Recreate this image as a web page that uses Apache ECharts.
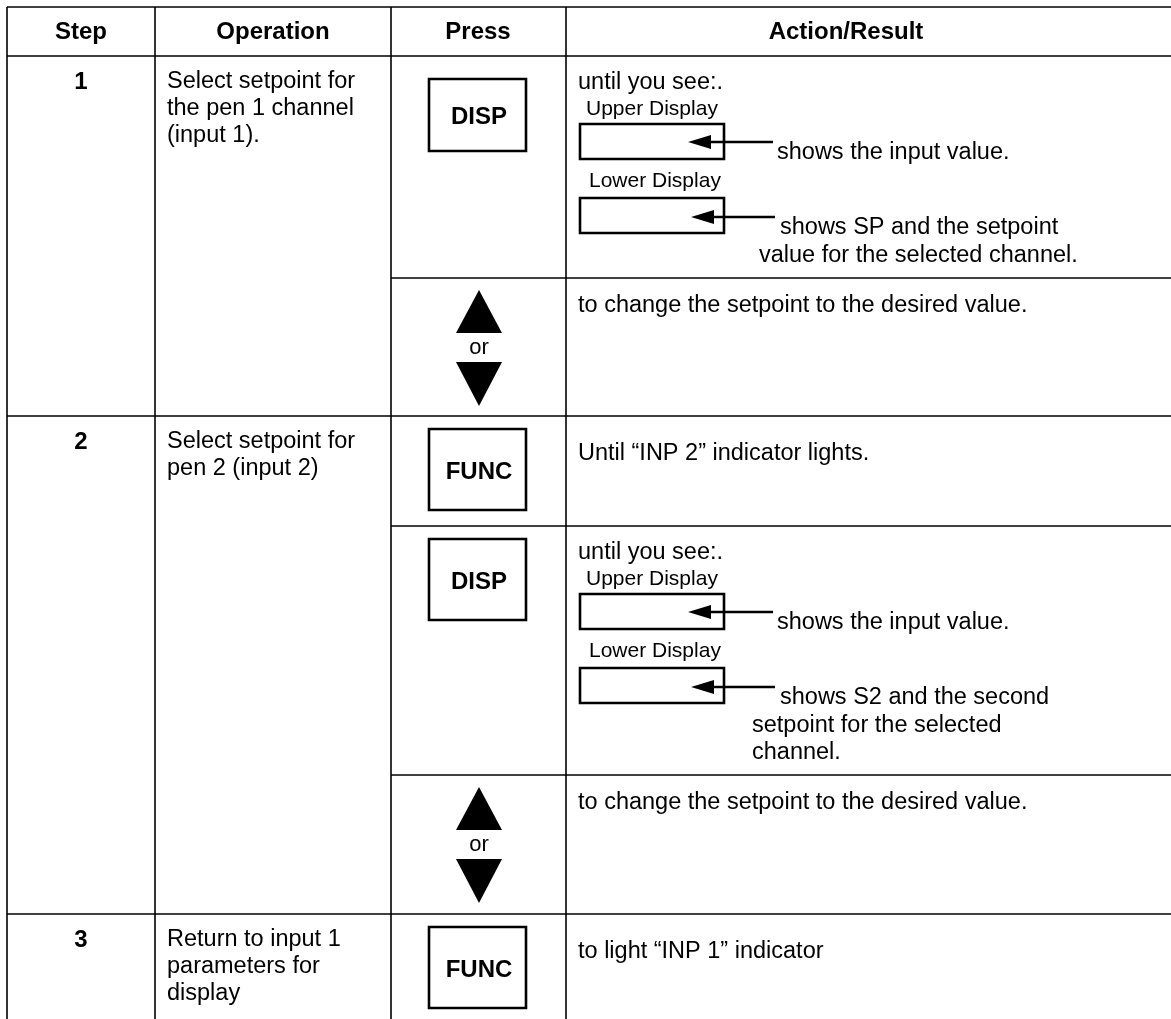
<!DOCTYPE html>
<html>
<head>
<meta charset="utf-8">
<script src="https://cdn.jsdelivr.net/npm/echarts@6/dist/echarts.min.js"></script>
<style>html,body{margin:0;padding:0;background:#fff;}#c{width:1171px;height:1019px;}</style>
</head>
<body>
<div id="c"></div>
<script>
// ---------- data ----------
const headers = ['Step', 'Operation', 'Press', 'Action/Result'];
const steps = ['1', '2', '3'];
const operations = [
  ['Select setpoint for', 'the pen 1 channel', '(input 1).'],
  ['Select setpoint for', 'pen 2 (input 2)'],
  ['Return to input 1', 'parameters for', 'display']
];
// one entry per sub-row: which step it belongs to, the key pressed
const subRowStep = [0, 0, 1, 1, 1, 2];
const subRowKey = ['DISP', 'ARROWS', 'FUNC', 'DISP', 'ARROWS', 'FUNC'];
const upperLabel = 'Upper Display';
const lowerLabel = 'Lower Display';
const upperNote = 'shows the input value.';
const lowerNotes = [
  ['shows SP and the setpoint', 'value for the selected channel.'],
  ['shows S2 and the second', 'setpoint for the selected', 'channel.']
];
const untilSee = 'until you see:.';
const changeText = 'to change the setpoint to the desired value.';
const funcTexts = ['Until \u201CINP 2\u201D indicator lights.', 'to light \u201CINP 1\u201D indicator'];
const orText = 'or';

// ---------- layout (positions / sizes / styles) ----------
const W = 1171, H = 1019;
const colX = [7, 155, 391, 566, W];
const tableTop = 7, headerBottom = 56;
const subTops = [56, 278, 416, 526, 775, 914, H + 2];
const rowTops = [56, 416, 914];
const FONT = "'Liberation Sans', Arial, Helvetica, sans-serif";
const BODY = 23.5, SMALL = 21, HEAD = 24;
const LH = 27;
const LW = 1.6;
const ink = '#000';

const els = [];
function line(x1, y1, x2, y2, w) {
  els.push({type: 'line', shape: {x1, y1, x2, y2}, style: {stroke: ink, lineWidth: w || LW}, silent: true});
}
function text(t, x, y, size, weight, align) {
  els.push({type: 'text', silent: true, style: {
    text: t, x, y, fill: ink, fontSize: size, fontFamily: FONT, fontWeight: weight || 'normal',
    align: align || 'left', verticalAlign: 'middle', textAlign: align || 'left', textVerticalAlign: 'middle'
  }});
}
function rect(x, y, w, h, lw) {
  els.push({type: 'rect', silent: true, shape: {x, y, width: w, height: h}, style: {fill: null, stroke: ink, lineWidth: lw}});
}
function poly(points) {
  els.push({type: 'polygon', silent: true, shape: {points}, style: {fill: ink}});
}

// grid lines
line(colX[0], tableTop, W, tableTop);
line(colX[0], headerBottom, W, headerBottom);
for (let i = 0; i < 4; i++) line(colX[i], tableTop, colX[i], H);
rowTops.forEach((y, i) => { if (i > 0) line(colX[0], y, W, y); });
subTops.forEach((y, i) => {
  if (i === 0 || i >= subTops.length - 1) return;
  if (rowTops.indexOf(y) < 0) line(colX[2], y, W, y);
});

// header
const headCenters = [81, 273, 478, 846];
headers.forEach((h, i) => text(h, headCenters[i], 32, HEAD, 'bold', 'center'));

// steps & operations
rowTops.forEach((top, i) => {
  text(steps[i], 81, top + 26, HEAD, 'bold', 'center');
  operations[i].forEach((l, j) => text(l, 167, top + 26 + j * LH, BODY, 'normal', 'left'));
});

// press column + action column
const pressCX = 478;
let funcIdx = 0, dispIdx = 0;
subRowKey.forEach((k, i) => {
  const top = subTops[i];
  if (k === 'DISP' || k === 'FUNC') {
    const boxTop = k === 'DISP' && i === 0 ? top + 23 : top + 13;
    const boxH = k === 'DISP' && i === 0 ? 72 : 81;
    rect(429, boxTop, 97, boxH, 2.6);
    text(k, pressCX + 1, boxTop + boxH / 2 + 2.5, HEAD, 'bold', 'center');
  } else {
    // up / or / down
    poly([[pressCX + 1, top + 12], [pressCX + 24, top + 55], [pressCX - 22, top + 55]]);
    text(orText, pressCX + 1, top + 70, 22, 'normal', 'center');
    poly([[pressCX - 22, top + 84], [pressCX + 24, top + 84], [pressCX + 1, top + 128]]);
    text(changeText, 578, top + 28, BODY, 'normal', 'left');
  }
  if (k === 'FUNC') {
    text(funcTexts[funcIdx++], 578, top + 38, BODY, 'normal', 'left');
  }
  if (k === 'DISP') {
    text(untilSee, 578, top + 27, BODY, 'normal', 'left');
    text(upperLabel, 586, top + 53, SMALL, 'normal', 'left');
    rect(580, top + 68, 144, 35, 2.6);
    poly([[688, top + 86], [711, top + 79], [711, top + 93]]);
    line(709, top + 86, 773, top + 86, 2.4);
    text(upperNote, 777, top + 97, BODY, 'normal', 'left');
    text(lowerLabel, 589, top + 125, SMALL, 'normal', 'left');
    rect(580, top + 142, 144, 35, 2.6);
    poly([[691, top + 161], [714, top + 154], [714, top + 168]]);
    line(712, top + 161, 775, top + 161, 2.4);
    const notes = lowerNotes[dispIdx];
    notes.forEach((n, j) => {
      const x = j === 0 ? 780 : (dispIdx === 0 ? 759 : 752);
      text(n, x, top + 172 + j * 27.5, BODY, 'normal', 'left');
    });
    dispIdx++;
  }
});

const chart = echarts.init(document.getElementById('c'), null, {renderer: 'canvas'});
chart.setOption({
  backgroundColor: '#fff',
  animation: false,
  graphic: {elements: els}
});
</script>
</body>
</html>
